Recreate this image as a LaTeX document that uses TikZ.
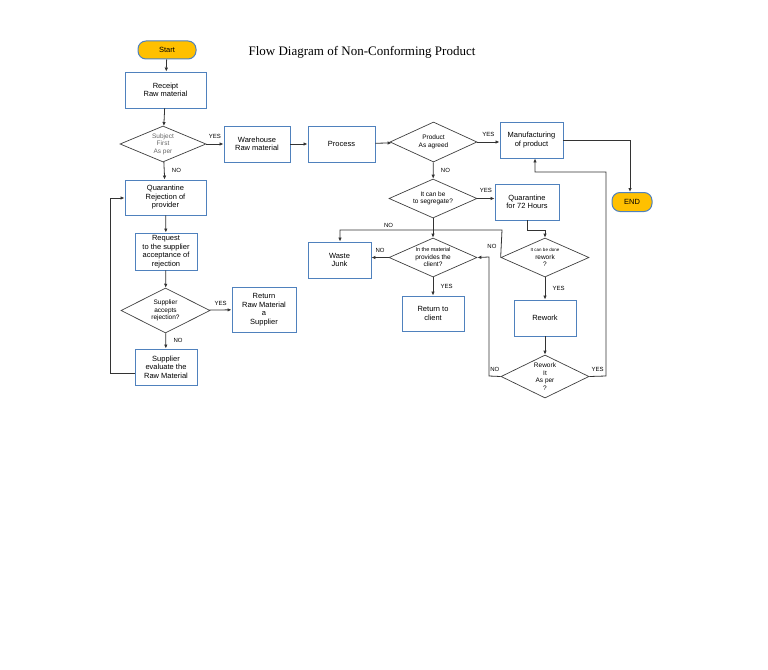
\documentclass[tikz,border=0pt]{standalone}
\usepackage{fontspec}
\setmainfont{Liberation Sans}
\newfontfamily\serifttl{Liberation Serif}
\usetikzlibrary{shapes.geometric,arrows.meta}
\definecolor{bx}{HTML}{4F81BD}
\definecolor{pill}{HTML}{FFC000}
\begin{document}
\begin{tikzpicture}[x=1pt,y=-1pt,
  box/.style={draw=bx,line width=0.9pt,align=center,font=\fontsize{7.5}{8.5}\selectfont,inner sep=1pt},
  dia/.style={draw=black!75,line width=0.7pt,diamond,aspect=2.2,align=center,font=\fontsize{6.5}{7.5}\selectfont,inner sep=0pt},
  pillst/.style={draw=bx,line width=1pt,fill=pill,rounded corners=8pt,font=\fontsize{7.5}{8.5}\selectfont},
  lab/.style={font=\fontsize{6}{7}\selectfont},
  con/.style={draw=black!80,line width=0.8pt,-{Latex[length=4pt,width=3.5pt]}},
  ln/.style={draw=black!80,line width=0.8pt}]
\useasboundingbox (0,0) rectangle (768,669);
\newcommand\bx[6]{\node[box,minimum width=#4-#2,minimum height=#5-#3] (#1) at ({(#2+#4)/2},{(#3+#5)/2}) {#6};}
\newcommand\dd[6]{\node[dia,minimum width=#4-#2,minimum height=#5-#3] (#1) at ({(#2+#4)/2},{(#3+#5)/2}) {#6};}
\node[pillst,minimum width=58pt,minimum height=18pt] (start) at (167,50) {Start};
\node[font=\serifttl\fontsize{13}{15}\selectfont] (title) at (362,52) {Flow Diagram of Non-Conforming Product};
\bx{rec}{125}{72}{206}{108}{Receipt\\Raw material}
\dd{d1}{120}{126}{206}{162}{\color{black!60}Subject\\\color{black!60}First\\\color{black!60}As per}
\bx{wh}{224}{126}{290}{162}{Warehouse\\Raw material}
\bx{proc}{308}{126}{375}{162}{Process}
\dd{dprod}{390}{122}{477}{162}{Product\\As agreed}
\bx{manu}{500}{122}{563}{158}{Manufacturing\\of product}
\node[pillst,minimum width=40pt,minimum height=19pt] (end) at (632,202) {END};
\dd{dseg}{389}{179}{477}{218}{It can be\\to segregate?}
\bx{q72}{495}{184}{559}{220}{Quarantine\\for 72 Hours}
\bx{waste}{308}{242}{371}{278}{Waste\\Junk}
\dd{dcli}{389}{238}{477}{277}{\fontsize{5.5}{7}\selectfont In the material\\provides the\\client?}
\dd{drw}{501}{238}{589}{277}{\fontsize{4.5}{6}\selectfont It can be done\\rework\\?}
\bx{retc}{402}{296}{464}{331}{Return to\\client}
\bx{rework}{514}{300}{576}{336}{Rework}
\dd{drit}{501}{355}{589}{398}{Rework\\It\\As per\\?}
\bx{qrej}{125}{180}{206}{215}{Quarantine\\Rejection of\\provider}
\bx{req}{135}{233}{197}{270}{Request\\to the supplier\\acceptance of\\rejection}
\dd{dsup}{121}{288}{210}{333}{Supplier\\accepts\\rejection?}
\bx{retraw}{232}{287}{296}{332}{Return\\Raw Material\\a\\Supplier}
\bx{eval}{135}{349}{197}{385}{Supplier\\evaluate the\\Raw Material}
\draw[con] (start) -- (rec);
\draw[con] (rec) -- (d1);
\draw[con] (d1) -- node[lab,above=2pt]{YES} (wh);
\draw[con] (d1) -- node[lab,right=4pt]{NO} (qrej);
\draw[con] (wh) -- (proc);
\draw[con] (proc) -- (dprod);
\draw[con] (dprod.east) -- node[lab,above=2pt,pos=0.5]{YES} (manu.west|-dprod.east);
\draw[con] (dprod) -- node[lab,right=4pt]{NO} (dseg);
\draw[con] (manu.east|-0,140) -- (630,140) -- (end.north-|630,0);
\draw[con] (dseg.east) -- node[lab,above=2pt]{YES} (q72.west|-dseg.east);
\draw[con] (dseg) -- (dcli);
\coordinate (c1) at (340,230);
\draw[con] (drw.west) -- node[lab,left=1pt,pos=0.4]{NO} (502,230) -- node[lab,above=-1pt,pos=0.7]{NO} (c1) -- (waste.north-|c1);
\draw[con] (q72.south-|527,0) -- (527,230) -- (545,230) -- (drw.north);
\draw[con] (dcli.west) -- node[lab,above=1pt]{NO} (waste.east|-dcli.west);
\draw[con] (dcli) -- node[lab,right=4pt]{YES} (retc);
\draw[con] (drw) -- node[lab,right=4pt]{YES} (rework);
\draw[con] (rework) -- (drit);
\draw[con] (drit.west) -- node[lab,above=1pt,pos=0.5]{NO} (489,376) -- (489,257) -- (dcli.east);
\draw[con] (drit.east) -- node[lab,above=1pt,pos=0.5]{YES} (606,376) -- (606,172) -- (535,172) -- (manu.south-|535,0);
\draw[con] (qrej) -- (req);
\draw[con] (req) -- (dsup);
\draw[con] (dsup) -- node[lab,above=1pt]{YES} (retraw);
\draw[con] (dsup) -- node[lab,right=4pt]{NO} (eval);
\draw[con] (eval.west|-0,373) -- (110,373) -- (110,198) -- (qrej.west|-0,198);
\end{tikzpicture}
\end{document}
